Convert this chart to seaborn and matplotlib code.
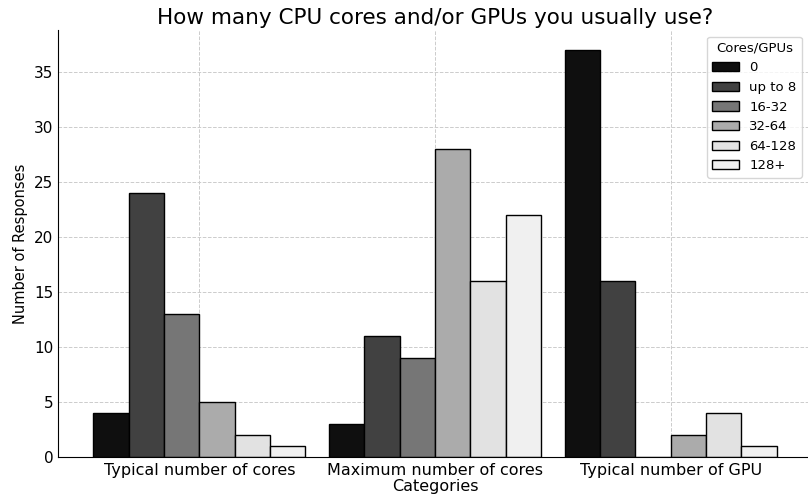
import pandas as pd
import matplotlib.pyplot as plt
import seaborn as sns

categories = ['Typical number of cores', 'Maximum number of cores', 'Typical number of GPU']
bins = ['0', 'up to 8', '16-32', '32-64', '64-128', '128+']
typical_cores = [4, 24, 13, 5, 2, 1]
max_cores = [3, 11, 9, 28, 16, 22]
typical_gpu = [37, 16, 0, 2, 4, 1]
greys = ['#0f0f0f', '#414141', '#767676', '#ababab', '#e2e2e2', '#f0f0f0']

rows = []
for cat, vals in zip(categories, [typical_cores, max_cores, typical_gpu]):
    for b, v in zip(bins, vals):
        rows.append({'Categories': cat, 'Cores/GPUs': b, 'Number of Responses': v})
df = pd.DataFrame(rows)

fig = plt.figure(figsize=(8.08, 4.99), dpi=100)
# axes runs a bit past the right edge, like the cropped original
ax = fig.add_axes([58/808, 42/499, 754/808, 427/499])

sns.barplot(data=df, x='Categories', y='Number of Responses', hue='Cores/GPUs',
            hue_order=bins, palette=greys, width=0.9, edgecolor='black',
            linewidth=1, saturation=1, ax=ax)

ax.set_xlim(-0.6, 2.6)
ax.set_ylim(0, 38.85)
ax.grid(True, linestyle='--', color='#cccccc', linewidth=0.7)
ax.set_axisbelow(True)
for s in ['top', 'right']:
    ax.spines[s].set_visible(False)
ax.tick_params(axis='x', labelsize=11.5, length=0, pad=4)
ax.tick_params(axis='y', labelsize=11, length=0)
ax.set_title('How many CPU cores and/or GPUs you usually use?', fontsize=15.5, pad=4)
ax.set_xlabel('Categories', fontsize=11.5, labelpad=1)
ax.set_ylabel('Number of Responses', fontsize=10.5)
ax.legend(title='Cores/GPUs', loc='upper right', fontsize=9.5, title_fontsize=9.5,
          bbox_to_anchor=(0.995, 1.0))

fig.savefig('out.png', dpi=100)
